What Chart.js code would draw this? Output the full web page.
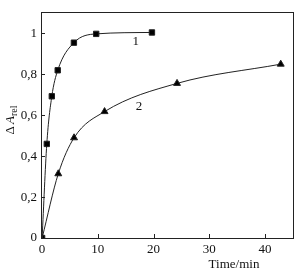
<!DOCTYPE html>
<html><head><meta charset="utf-8">
<script src="https://cdn.jsdelivr.net/npm/chart.js@4/dist/chart.umd.min.js"></script>
<style>html,body{margin:0;padding:0;background:#fff}#c{display:block}</style>
</head><body>
<canvas id="c" width="299" height="276"></canvas>
<script>
const s1x = [0, 0.84, 1.74, 2.8, 5.7, 9.7, 19.7];
const s1y = [0, 0.46, 0.693, 0.82, 0.955, 0.998, 1.005];
const s2x = [0, 2.9, 5.73, 11.2, 24.2, 42.8];
const s2y = [0, 0.314, 0.49, 0.618, 0.756, 0.85];
const xTicks = [0, 10, 20, 30, 40];
const yTicks = [0, 0.2, 0.4, 0.6, 0.8, 1];
const seriesLabels = ['1', '2'];
const xTitle = 'Time/min';

const FONT = '"Liberation Serif","DejaVu Serif",serif';
const pts = (xs, ys) => xs.map((x, i) => ({x, y: ys[i]}));
const fmt = v => v === 0 ? '0' : v === 1 ? '1' : String(v).replace('.', ',');

const deco = {
  id: 'deco',
  afterDraw(chart) {
    const {ctx, chartArea: a, scales: {x, y}} = chart;
    ctx.save();
    ctx.strokeStyle = '#222';
    ctx.lineWidth = 1;
    ctx.strokeRect(Math.round(a.left) + 0.5, Math.round(a.top) + 0.5, Math.round(a.right - a.left), Math.round(a.bottom - a.top));
    ctx.beginPath();
    xTicks.forEach(v => { const px = Math.round(x.getPixelForValue(v)) + 0.5; ctx.moveTo(px, a.bottom); ctx.lineTo(px, a.bottom - 4); });
    yTicks.forEach(v => { const py = Math.round(y.getPixelForValue(v)) + 0.5; ctx.moveTo(a.left, py); ctx.lineTo(a.left + 4, py); });
    ctx.stroke();
    ctx.fillStyle = '#111';
    ctx.font = '13px ' + FONT;
    ctx.textAlign = 'center'; ctx.textBaseline = 'middle';
    ctx.fillText(seriesLabels[0], x.getPixelForValue(16.8), y.getPixelForValue(0.96));
    ctx.fillText(seriesLabels[1], x.getPixelForValue(17.4), y.getPixelForValue(0.645));
    ctx.fillText(xTitle, 234, 265);
    // y title
    ctx.translate(14, 120);
    ctx.rotate(-Math.PI / 2);
    ctx.textAlign = 'left'; ctx.textBaseline = 'alphabetic';
    ctx.font = '13px ' + FONT;
    let w0 = ctx.measureText('Δ').width;
    ctx.font = 'italic 13px ' + FONT;
    let w1 = ctx.measureText('A').width;
    ctx.font = '10px ' + FONT;
    let w2 = ctx.measureText('rel').width;
    let start = -(w0 + 2 + w1 + w2) / 2;
    ctx.font = '13px ' + FONT;
    ctx.fillText('Δ', start, 0);
    ctx.font = 'italic 13px ' + FONT;
    ctx.fillText('A', start + w0 + 2, 0);
    ctx.font = '10px ' + FONT;
    ctx.fillText('rel', start + w0 + 2 + w1, 3);
    ctx.restore();
  }
};

new Chart(document.getElementById('c'), {
  type: 'scatter',
  data: {
    datasets: [
      {data: pts(s1x, s1y), showLine: true, borderColor: '#222', backgroundColor: '#000', borderWidth: 1,
       pointStyle: 'rect', pointRadius: 3.8, pointHoverRadius: 3.8, cubicInterpolationMode: 'monotone'},
      {data: pts(s2x, s2y), showLine: true, borderColor: '#222', backgroundColor: '#000', borderWidth: 1,
       pointStyle: 'triangle', pointRadius: 4, pointHoverRadius: 4, cubicInterpolationMode: 'monotone'}
    ]
  },
  options: {
    responsive: false, animation: false, devicePixelRatio: 1,
    layout: {padding: {top: 11, right: 6, left: 0, bottom: 0}},
    plugins: {legend: {display: false}, tooltip: {enabled: false}},
    scales: {
      x: {type: 'linear', min: -0.2, max: 45,
        afterFit: s => { s.height = 38; },
        afterBuildTicks: s => { s.ticks = xTicks.map(v => ({value: v})); },
        grid: {display: false, drawTicks: false}, border: {display: false},
        ticks: {color: '#111', font: {family: FONT, size: 13}, padding: 4, maxRotation: 0, callback: v => fmt(v)}},
      y: {type: 'linear', min: 0, max: 1.106,
        afterFit: s => { s.width = 41; },
        afterBuildTicks: s => { s.ticks = yTicks.map(v => ({value: v})); },
        grid: {display: false, drawTicks: false}, border: {display: false},
        ticks: {color: '#111', font: {family: FONT, size: 13}, padding: 4, callback: v => fmt(v)}}
    }
  },
  plugins: [deco]
});
</script>
</body></html>
